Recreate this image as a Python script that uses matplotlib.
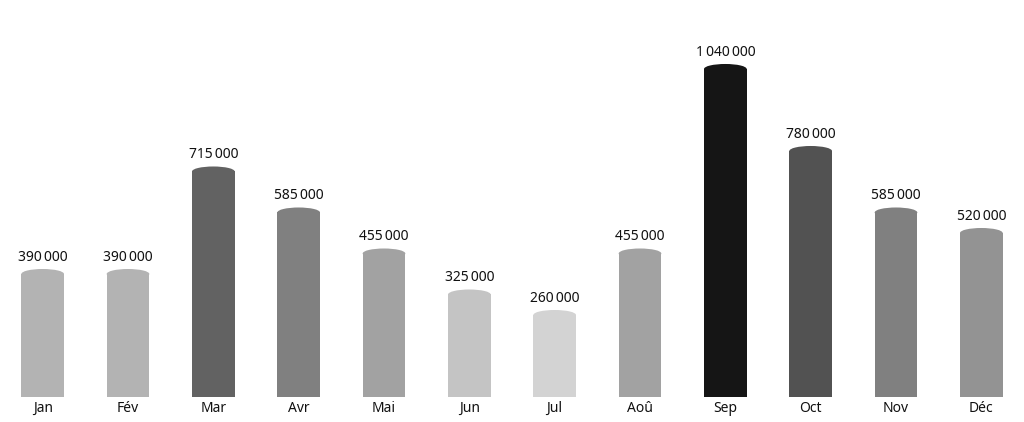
import matplotlib
matplotlib.use("Agg")
import matplotlib.pyplot as plt
from matplotlib.patches import Ellipse

months = ["Jan", "Fév", "Mar", "Avr", "Mai", "Jun", "Jul", "Aoû", "Sep", "Oct", "Nov", "Déc"]
sales = [390000, 390000, 715000, 585000, 455000, 325000, 260000, 455000, 1040000, 780000, 585000, 520000]
shades = ["#b3b3b3", "#b3b3b3", "#626262", "#808080", "#a2a2a2", "#c4c4c4",
          "#d3d3d3", "#a2a2a2", "#151515", "#525252", "#808080", "#939393"]

plt.rcParams["font.family"] = ["Noto Sans", "DejaVu Sans"]

fig = plt.figure(figsize=(10.24, 4.22), dpi=100)
ax = fig.add_axes([0, 25 / 422, 1, 397 / 422])

ymax = 1258700
px = ymax / 397  # data units per pixel
ax.set_xlim(-0.5, len(months) - 0.5)
ax.set_ylim(0, ymax)

width = 0.5
cap = 10 * px  # height of rounded top

for i, (v, c) in enumerate(zip(sales, shades)):
    ax.bar(i, v, width=width, color=c, linewidth=0)
    ax.add_patch(Ellipse((i, v), width, cap, color=c, linewidth=0))
    label = f"{v:,}".replace(",", "\u202f")
    ax.text(i, v + 13 * px, label, ha="center", va="baseline", fontsize=10, color="#111111")

ax.set_xticks(range(len(months)))
ax.set_xticklabels(months, fontsize=10, color="#111111")
ax.tick_params(axis="x", length=0, pad=3)
ax.set_yticks([])
for s in ax.spines.values():
    s.set_visible(False)

fig.savefig("out.png", dpi=100)
